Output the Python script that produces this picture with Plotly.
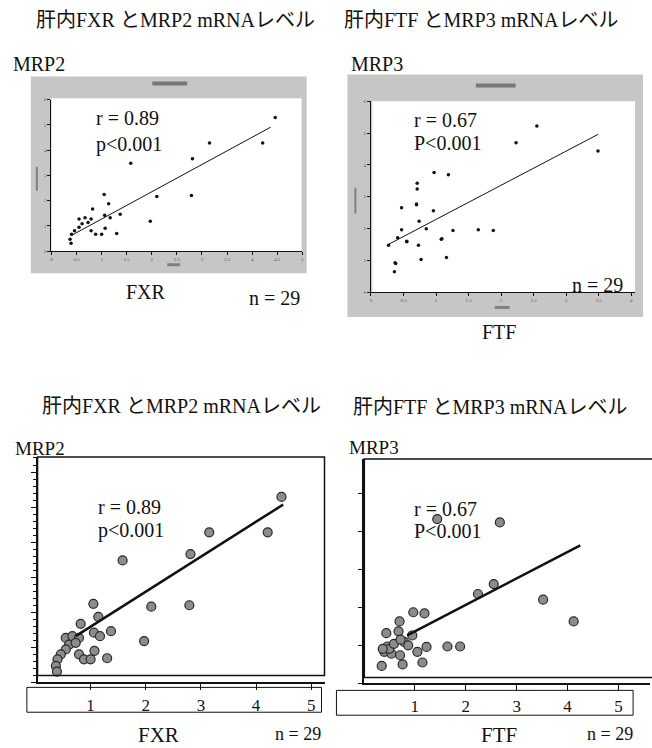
import plotly.graph_objects as go

W, H = 652, 748

# ---------------- data ----------------
# Hepatic FXR vs MRP2 mRNA (same 29 samples drawn in top-left and bottom-left panels)
fxr = [4.46, 3.15, 4.21, 2.81, 1.58, 2.10, 2.79, 1.05, 1.14, 1.97,
       0.82, 1.37, 1.06, 1.17, 0.55, 0.67, 0.79, 0.61, 0.73, 0.55,
       0.46, 0.40, 0.37, 0.39, 0.79, 0.88, 1.00, 1.07, 1.30]
mrp2 = [5.29, 4.28, 4.28, 3.66, 3.48, 2.16, 2.20, 2.24, 1.87, 1.18,
        1.67, 1.46, 1.42, 1.32, 1.27, 1.32, 1.27, 1.08, 1.13, 0.94,
        0.80, 0.66, 0.47, 0.31, 0.80, 0.66, 0.66, 0.90, 0.69]
fit_fxr_top = [0.40, 4.37]
fit_mrp2_top = [0.62, 4.91]
fit_fxr_bot = [0.73, 4.49]
fit_mrp2_bot = [1.32, 5.07]

# Hepatic FTF vs MRP3 mRNA, top-right panel
ftf_top = [2.55, 2.23, 3.49, 0.97, 1.19, 0.71, 0.71, 0.70, 0.47, 0.96,
           0.74, 0.85, 0.47, 0.41, 0.55, 1.08, 1.26, 1.65, 1.88, 0.73,
           0.77, 1.16, 0.37, 0.36, 0.27, 0.70, 0.55, 1.09, 0.38]
mrp3_top = [5.22, 4.70, 4.44, 3.76, 3.69, 3.42, 3.24, 2.75, 2.65, 2.56,
            2.23, 1.99, 1.96, 1.71, 1.60, 1.66, 1.94, 1.96, 1.94, 1.47,
            1.02, 1.09, 0.92, 0.64, 1.47, 2.77, 1.58, 1.68, 0.90]
fit_ftf_top = [0.26, 3.49]
fit_mrp3_top = [1.49, 4.96]

# Hepatic FTF vs MRP3 mRNA, bottom-right panel
ftf_bot = [2.67, 1.44, 2.55, 2.24, 3.52, 4.12, 0.97, 1.19, 0.70, 0.68,
           0.44, 0.95, 0.79, 0.87, 0.46, 0.40, 0.54, 0.71, 1.05, 1.23,
           1.64, 1.89, 0.35, 0.76, 1.15, 0.50, 0.59, 0.72, 0.37]
mrp3_bot = [4.23, 4.32, 2.61, 2.35, 2.20, 1.63, 1.87, 1.84, 1.63, 1.37,
            1.32, 1.26, 1.09, 1.00, 0.97, 0.83, 0.78, 0.74, 0.83, 0.96,
            0.97, 0.97, 0.46, 0.50, 0.55, 0.91, 1.04, 1.15, 0.91]
fit_ftf_bot = [0.85, 4.25]
fit_mrp3_bot = [1.26, 3.63]

bottom_ticks = [1, 2, 3, 4, 5]
title_fxr = "肝内FXR とMRP2 mRNAレベル"
title_ftf = "肝内FTF とMRP3 mRNAレベル"

FONT = "Liberation Serif, Noto Sans CJK JP, serif"


def fx(px):
    return px / W


def fy(py):
    return 1 - py / H


fig = go.Figure()

# top panels: small black dots
fig.add_trace(go.Scatter(x=fxr, y=mrp2, mode="markers", xaxis="x", yaxis="y",
                         marker=dict(size=3.5, color="#111")))
fig.add_trace(go.Scatter(x=fit_fxr_top, y=fit_mrp2_top, mode="lines", xaxis="x", yaxis="y",
                         line=dict(color="#111", width=1)))
fig.add_trace(go.Scatter(x=ftf_top, y=mrp3_top, mode="markers", xaxis="x2", yaxis="y2",
                         marker=dict(size=3.5, color="#111")))
fig.add_trace(go.Scatter(x=fit_ftf_top, y=fit_mrp3_top, mode="lines", xaxis="x2", yaxis="y2",
                         line=dict(color="#111", width=1)))

# bottom panels: gray circles
bm = dict(size=9, color="#8c8c8c", line=dict(color="#2a2a2a", width=1.2))
fig.add_trace(go.Scatter(x=fxr, y=mrp2, mode="markers", xaxis="x3", yaxis="y3", marker=bm))
fig.add_trace(go.Scatter(x=fit_fxr_bot, y=fit_mrp2_bot, mode="lines", xaxis="x3", yaxis="y3",
                         line=dict(color="#111", width=2.5)))
fig.add_trace(go.Scatter(x=ftf_bot, y=mrp3_bot, mode="markers", xaxis="x4", yaxis="y4", marker=bm))
fig.add_trace(go.Scatter(x=fit_ftf_bot, y=fit_mrp3_bot, mode="lines", xaxis="x4", yaxis="y4",
                         line=dict(color="#111", width=2.5)))

small_ax = dict(showline=True, linecolor="#111", linewidth=1, ticks="outside", ticklen=3,
                tickcolor="#111", showgrid=False, zeroline=False,
                tickfont=dict(size=5, color="#555", family=FONT))
big_x = dict(showline=True, linecolor="#111", linewidth=1.5, ticks="outside", ticklen=6,
             tickcolor="#111", showgrid=False, zeroline=False, tickvals=bottom_ticks,
             tickfont=dict(size=17, color="#111", family=FONT))
big_y = dict(showline=True, linecolor="#111", linewidth=1.5, ticks="outside", ticklen=5,
             tickcolor="#111", showgrid=False, zeroline=False, showticklabels=False, dtick=1)

layout = dict(
    width=W, height=H, margin=dict(l=0, r=0, t=0, b=0),
    paper_bgcolor="white", plot_bgcolor="rgba(0,0,0,0)", showlegend=False,
    xaxis=dict(small_ax, domain=[fx(50.7), fx(302.7)], range=[0, 5], anchor="y",
               tickvals=[i * 0.5 for i in range(11)]),
    yaxis=dict(small_ax, domain=[fy(250.7), fy(98.3)], range=[0, 6], anchor="x", dtick=1),
    xaxis2=dict(small_ax, domain=[fx(371.7), fx(637)], range=[0, 4.06], anchor="y2",
                tickvals=[i * 0.5 for i in range(9)]),
    yaxis2=dict(small_ax, domain=[fy(292), fy(100)], range=[0, 6], anchor="x2", dtick=1),
    xaxis3=dict(big_x, domain=[fx(36.7), fx(325)], range=[0.038, 5.24], anchor="y3"),
    yaxis3=dict(big_y, domain=[fy(685), fy(458)], range=[0, 6.43], anchor="x3",
                minor=dict(ticks="outside", ticklen=3, dtick=0.2, tickcolor="#111")),
    xaxis4=dict(big_x, domain=[fx(365), fx(651.5)], range=[0.008, 5.61], anchor="y4"),
    yaxis4=dict(big_y, domain=[fy(686), fy(460)], range=[0, 5.9], anchor="x4"),
)

shapes = []


def rect(x0, y0, x1, y1, fill=None, line_color=None, lw=0, layer="below"):
    s = dict(type="rect", xref="paper", yref="paper", x0=fx(x0), x1=fx(x1),
             y0=fy(y1), y1=fy(y0), layer=layer, line=dict(width=lw, color=line_color or "rgba(0,0,0,0)"))
    if fill:
        s["fillcolor"] = fill
    shapes.append(s)


# gray frames of the top panels with white plotting areas
rect(30, 75, 307, 273, fill="#c6c6c6")
rect(50.7, 97, 302, 250.7, fill="white")
rect(348, 73, 645, 317, fill="#c6c6c6")
rect(373, 100, 637, 292, fill="white")
# tiny chart-title / axis-title blobs of the screenshot
rect(152, 80, 187, 84, fill="#777777")
rect(167, 263, 180, 266, fill="#808080")
rect(35, 166, 37, 190, fill="#808080")
rect(477, 82, 517, 86, fill="#777777")
rect(496, 306, 511, 309, fill="#808080")
rect(355, 187, 357, 213, fill="#808080")
# bottom panel frames and tick-label boxes
rect(36.7, 458, 325, 678, line_color="#111", lw=1.5, layer="above")
rect(26, 690, 322, 715, line_color="#111", lw=1, layer="above")
rect(365, 460, 660, 680, line_color="#111", lw=1.5, layer="above")
rect(337, 693, 635, 718, line_color="#111", lw=1, layer="above")
layout["shapes"] = shapes

ann = []


def text(t, px, py, anchor="left", size=20):
    ann.append(dict(text=t, x=fx(px), y=fy(py), xref="paper", yref="paper", showarrow=False,
                    xanchor=anchor, yanchor="middle",
                    font=dict(family=FONT, size=size, color="#111")))


text(title_fxr, 175, 18, "center")
text(title_ftf, 482.5, 18, "center")
text("MRP2", 10, 62)
text("MRP3", 350, 62)
text("r = 0.89", 93, 117)
text("p<0.001", 93, 143)
text("r = 0.67", 413, 119)
text("P<0.001", 413, 142)
text("FXR", 146, 292, "center")
text("n = 29", 247, 298)
text("FTF", 500, 332, "center")
text("n = 29", 572, 285)

text(title_fxr, 181.5, 407, "center")
text(title_ftf, 492, 408, "center")
text("MRP2", 12, 450, size=19)
text("MRP3", 348, 449, size=19)
text("r = 0.89", 95, 508)
text("p<0.001", 95, 532)
text("r = 0.67", 413, 510)
text("P<0.001", 413, 533)
text("FXR", 158, 738, "center", size=21)
text("n = 29", 273, 737, size=18)
text("FTF", 500, 738, "center", size=21)
text("n = 29", 587, 737, size=18)
layout["annotations"] = ann

fig.update_layout(**layout)
fig.write_html("out.html")
